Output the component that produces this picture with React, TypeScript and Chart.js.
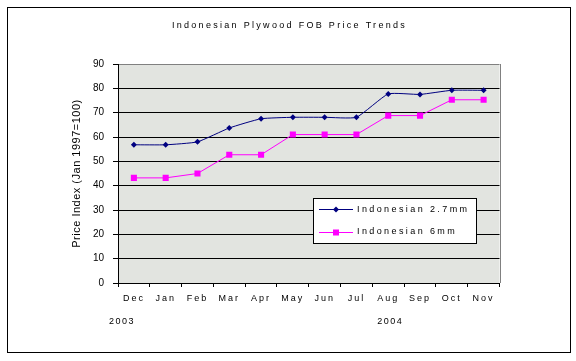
import React, { useEffect, useRef } from "react";
import { Chart, registerables } from "chart.js";

Chart.register(...registerables);

const TITLE = "Indonesian Plywood FOB Price Trends";
const Y_TITLE = "Price Index (Jan 1997=100)";
const months = ["Dec", "Jan", "Feb", "Mar", "Apr", "May", "Jun", "Jul", "Aug", "Sep", "Oct", "Nov"];
const years = ["2003", "2004"];
const series27Label = "Indonesian 2.7mm";
const series6Label = "Indonesian 6mm";
const series27 = [56.8, 56.8, 58.0, 63.7, 67.5, 68.1, 68.1, 68.1, 77.7, 77.5, 79.2, 79.2];
const series6 = [43.2, 43.2, 45.0, 52.7, 52.7, 61.0, 61.0, 61.0, 68.8, 68.8, 75.3, 75.3];
const yMin = 0;
const yMax = 90;
const yStep = 10;

const FONT = "'Liberation Sans', Arial, sans-serif";
const BLUE = "#000080";
const PINK = "#ff00ff";

function drawMarker(ctx: CanvasRenderingContext2D, style: string, x: number, y: number, color: string) {
  ctx.save();
  ctx.fillStyle = color;
  ctx.beginPath();
  if (style === "rect") {
    ctx.rect(x - 3, y - 3, 6, 6);
  } else {
    ctx.moveTo(x - 3, y);
    ctx.lineTo(x, y - 3);
    ctx.lineTo(x + 3, y);
    ctx.lineTo(x, y + 3);
    ctx.closePath();
  }
  ctx.fill();
  ctx.restore();
}

const decor = {
  id: "decor",
  beforeDraw(chart: any) {
    const { ctx, chartArea: a } = chart;
    ctx.save();
    ctx.fillStyle = "#ffffff";
    ctx.fillRect(0, 0, chart.width, chart.height);
    ctx.strokeStyle = "#000";
    ctx.lineWidth = 1;
    ctx.strokeRect(7.5, 7.5, 563, 345);
    ctx.fillStyle = "#e2e4e0";
    ctx.fillRect(a.left, a.top, a.right - a.left, a.bottom - a.top);
    ctx.restore();

    const xs: any = chart.scales.x;
    if (!xs._lsPatched) {
      const orig = xs.drawLabels.bind(xs);
      xs.drawLabels = (area: any) => {
        ctx.save();
        (ctx as any).letterSpacing = "2px";
        orig(area);
        ctx.restore();
      };
      xs._lsPatched = true;
    }
    const ys: any = chart.scales.y;
    if (!ys._lsPatched) {
      const origT = ys.drawTitle.bind(ys);
      ys.drawTitle = () => {
        ctx.save();
        (ctx as any).letterSpacing = "0.5px";
        origT();
        ctx.restore();
      };
      ys._lsPatched = true;
    }
  },
  afterDraw(chart: any) {
    const { ctx, chartArea: a } = chart;
    const xs = chart.scales.x;
    ctx.save();
    // right border of plot area
    ctx.strokeStyle = "#808080";
    ctx.lineWidth = 1;
    ctx.beginPath();
    ctx.moveTo(Math.round(a.right) + 0.5, a.top);
    ctx.lineTo(Math.round(a.right) + 0.5, a.bottom);
    ctx.stroke();

    // title
    ctx.fillStyle = "#000";
    ctx.font = `9px ${FONT}`;
    (ctx as any).letterSpacing = "2.3px";
    ctx.textAlign = "center";
    ctx.textBaseline = "middle";
    ctx.fillText(TITLE, 289.5, 26);

    // year labels
    (ctx as any).letterSpacing = "1.5px";
    ctx.fillText(years[0], xs.getPixelForValue(0) - 12, 322);
    ctx.fillText(years[1], xs.getPixelForValue(8) + 2, 322);

    // legend
    const bx = 313.5, by = 198.5, bw = 163, bh = 45;
    ctx.fillStyle = "#fff";
    ctx.fillRect(bx, by, bw, bh);
    ctx.strokeStyle = "#000";
    ctx.strokeRect(bx, by, bw, bh);
    const rows = [209, 231.5];
    chart.data.datasets.forEach((ds: any, i: number) => {
      const y = rows[i];
      ctx.strokeStyle = ds.borderColor;
      ctx.lineWidth = 1;
      ctx.beginPath();
      ctx.moveTo(319, Math.round(y) + 0.5);
      ctx.lineTo(353, Math.round(y) + 0.5);
      ctx.stroke();
      drawMarker(ctx, ds.pointStyle, 336, Math.round(y) + 0.5, ds.borderColor);
      ctx.fillStyle = "#000";
      ctx.font = `9px ${FONT}`;
      (ctx as any).letterSpacing = "2.4px";
      ctx.textAlign = "left";
      ctx.textBaseline = "middle";
      ctx.fillText(ds.label, 357, y + 0.5);
    });
    ctx.restore();
  },
};

export default function App() {
  const ref = useRef<HTMLCanvasElement>(null);
  useEffect(() => {
    const chart = new Chart(ref.current as HTMLCanvasElement, {
      type: "line",
      data: {
        labels: months,
        datasets: [
          {
            label: series27Label,
            data: series27,
            borderColor: BLUE,
            backgroundColor: BLUE,
            borderWidth: 1,
            tension: 0.15,
            pointStyle: "rectRot",
            pointRadius: 3,
            pointBorderWidth: 0,
            pointBackgroundColor: BLUE,
          },
          {
            label: series6Label,
            data: series6,
            borderColor: PINK,
            backgroundColor: PINK,
            borderWidth: 1,
            tension: 0,
            pointStyle: "rect",
            pointRadius: 4.3,
            pointBorderWidth: 0,
            pointBackgroundColor: PINK,
          },
        ],
      } as any,
      options: {
        animation: false,
        responsive: false,
        devicePixelRatio: 1,
        layout: { padding: { left: 0, right: 76.5, top: 64, bottom: 0 } },
        plugins: {
          legend: { display: false },
          tooltip: { enabled: false },
          title: { display: false },
        },
        scales: {
          x: {
            type: "category",
            offset: true,
            grid: {
              offset: true,
              drawOnChartArea: false,
              tickLength: 4,
              color: "#000",
            },
            border: { color: "#000", width: 1 },
            ticks: {
              color: "#000",
              font: { family: FONT, size: 9 },
              padding: 6,
              maxRotation: 0,
              autoSkip: false,
            },
            afterFit: (s: any) => {
              s.height = 78;
            },
          },
          y: {
            min: yMin,
            max: yMax,
            grid: {
              color: (c: any) => (c.tick && c.tick.value === yMax ? "#808080" : "#000"),
              tickColor: "#000",
              tickLength: 5,
              lineWidth: 1,
            },
            border: { color: "#000", width: 1 },
            ticks: {
              stepSize: yStep,
              color: "#000",
              font: { family: FONT, size: 10 },
              padding: 9,
            },
            title: {
              display: true,
              text: Y_TITLE,
              color: "#000",
              font: { family: FONT, size: 11 },
              padding: { top: 70, bottom: 0 },
            },
            afterFit: (s: any) => {
              s.width = 118;
            },
          },
        },
      } as any,
      plugins: [decor],
    });
    return () => chart.destroy();
  }, []);
  return (
    <div style={{ position: "fixed", left: 0, top: 0, width: 576, height: 361, background: "#fff" }}>
      <canvas ref={ref} width={576} height={361} style={{ display: "block", width: 576, height: 361 }} />
    </div>
  );
}
